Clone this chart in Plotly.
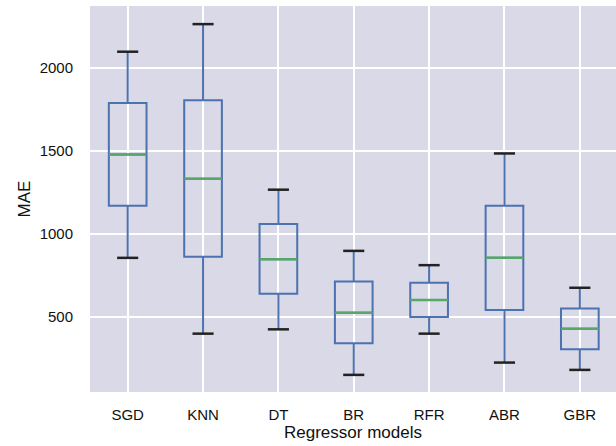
import plotly.graph_objects as go

# MAE distribution per regressor model (box statistics)
models = ["SGD", "KNN", "DT", "BR", "RFR", "ABR", "GBR"]
lower_whisker = [856, 400, 426, 152, 400, 226, 182]
q1 = [1170, 862, 640, 342, 500, 542, 306]
median = [1478, 1332, 848, 526, 602, 856, 430]
q3 = [1788, 1804, 1060, 714, 706, 1170, 552]
upper_whisker = [2096, 2262, 1266, 898, 812, 1484, 676]

positions = list(range(1, len(models) + 1))
BOX_W = 0.5
CAP_W = 0.28

BLUE = "#4c72b0"
GREEN = "#55a868"
CAP = "#222222"

fig = go.Figure()

fig.add_trace(go.Box(
    x=positions, q1=q1, median=median, q3=q3,
    lowerfence=lower_whisker, upperfence=upper_whisker,
    width=BOX_W, whiskerwidth=0, boxpoints=False,
    line=dict(color=BLUE, width=2), fillcolor="rgba(0,0,0,0)",
    showlegend=False, hoverinfo="skip",
))

# median lines
mx, my = [], []
for p, m in zip(positions, median):
    mx += [p - BOX_W / 2, p + BOX_W / 2, None]
    my += [m, m, None]
fig.add_trace(go.Scatter(x=mx, y=my, mode="lines",
                         line=dict(color=GREEN, width=2.5),
                         showlegend=False, hoverinfo="skip"))

# whisker caps
cx, cy = [], []
for p, lo, hi in zip(positions, lower_whisker, upper_whisker):
    for v in (lo, hi):
        cx += [p - CAP_W / 2, p + CAP_W / 2, None]
        cy += [v, v, None]
fig.add_trace(go.Scatter(x=cx, y=cy, mode="lines",
                         line=dict(color=CAP, width=2.5),
                         showlegend=False, hoverinfo="skip"))

FONT = "Liberation Sans, Arial, sans-serif"

fig.update_layout(
    width=616, height=446,
    margin=dict(l=90, r=0, t=6, b=54),
    paper_bgcolor="white",
    plot_bgcolor="#d9d9e7",
    font=dict(family=FONT, color="#111111", size=15),
    xaxis=dict(
        range=[0.5, 7.48],
        tickmode="array", tickvals=positions, ticktext=models,
        showgrid=True, gridcolor="white", gridwidth=2,
        zeroline=False, showline=False, ticks="",
        ticklabelstandoff=12,
        tickfont=dict(size=15),
        title=dict(text="Regressor models", font=dict(size=17), standoff=4),
    ),
    yaxis=dict(
        range=[49, 2371],
        tickvals=[500, 1000, 1500, 2000],
        showgrid=True, gridcolor="white", gridwidth=2,
        zeroline=False, showline=False, ticks="",
        ticklabelstandoff=16,
        tickfont=dict(size=15),
        title=dict(text="MAE", font=dict(size=17), standoff=4),
    ),
)

fig.write_html("out.html")
